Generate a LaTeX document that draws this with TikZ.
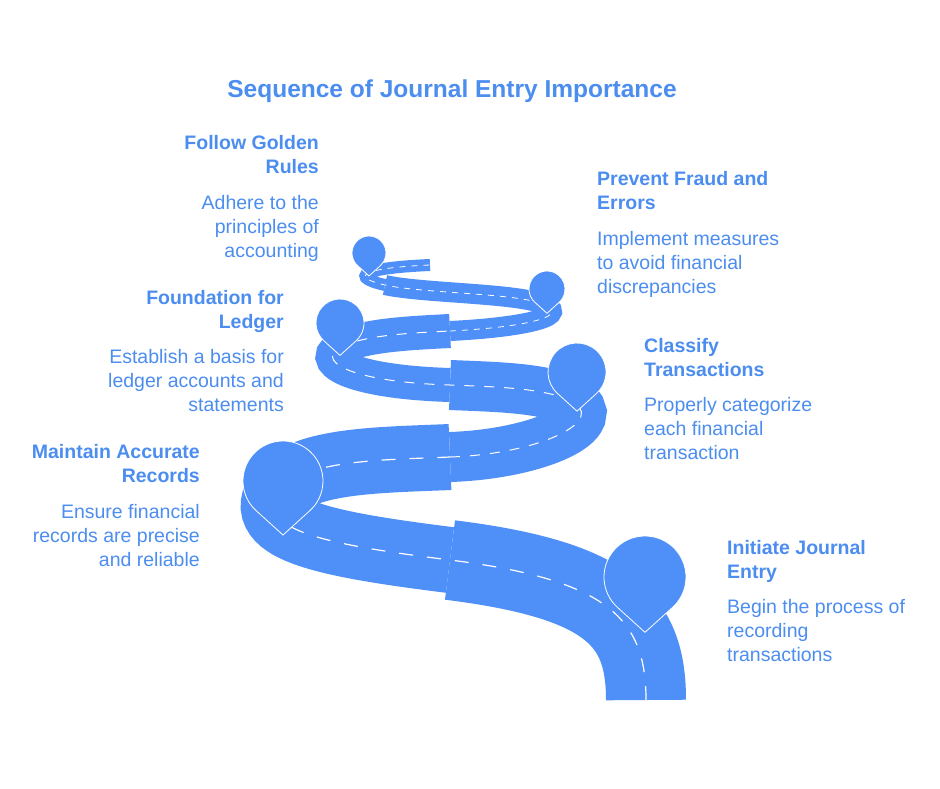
\documentclass[tikz,border=0pt]{standalone}
\usepackage{fontspec}
\setmainfont{Liberation Sans}
\definecolor{roadblue}{HTML}{4F8FF8}
\definecolor{textblue}{HTML}{4C8DF0}
\tikzset{
  road/.style={draw=roadblue, line cap=butt},
  lane/.style={draw=white, line width=1.2pt, dash pattern=on 14pt off 14pt},
  pinshape/.style={fill=roadblue, draw=white, line width=0.8pt},
  head/.style={font=\fontsize{19.5}{24}\selectfont\bfseries, text=textblue, inner sep=0pt},
  body/.style={font=\fontsize{19.5}{24}\selectfont, text=textblue, inner sep=0pt}
}
% pin: centre x, y, radius
\newcommand\mappin[3]{%
  \path[pinshape] (#1,#2+1.35*#3) -- ($(#1,#2)+(132:#3)$)
    arc[start angle=132, end angle=408, radius=#3] -- cycle;}
\usetikzlibrary{calc}
\begin{document}
\begin{tikzpicture}[x=1pt, y=-1pt]
    \useasboundingbox[fill=white] (0,0) rectangle (940,788);
    % road
    \draw[road, line width=80pt] (646,700) .. controls (646,620) and (610,580) .. (450,560);
    \draw[road, line width=66pt] (450,560) .. controls (330,545) and (250,530) .. (280,490)
        .. controls (305,460) and (380,460) .. (450,457);
    \draw[road, line width=50pt] (450,457) .. controls (540,454) and (610,420) .. (570,400)
        .. controls (540,388) and (500,387) .. (450,385);
    \draw[road, line width=34pt] (450,385) .. controls (350,382) and (310,360) .. (345,345)
        .. controls (370,335) and (410,333) .. (450,331);
    \draw[road, line width=20pt] (450,331) .. controls (530,327) and (575,315) .. (540,303)
        .. controls (510,293) and (420,293) .. (385,285);
    \draw[road, line width=12pt] (385,285) .. controls (350,277) and (360,268) .. (430,265);
    % centre line
    \draw[lane] (646,700) .. controls (646,620) and (610,580) .. (450,560)
        .. controls (330,545) and (250,530) .. (280,490)
        .. controls (305,460) and (380,460) .. (450,457);
    \draw[lane, dash pattern=on 10pt off 10pt, line width=1pt] (450,457) .. controls (540,454) and (610,420) .. (570,400)
        .. controls (540,388) and (500,387) .. (450,385)
        .. controls (350,382) and (310,360) .. (345,345)
        .. controls (370,335) and (410,333) .. (450,331);
    \draw[lane, dash pattern=on 6pt off 6pt, line width=0.8pt] (450,331) .. controls (530,327) and (575,315) .. (540,303)
        .. controls (510,293) and (420,293) .. (385,285)
        .. controls (350,277) and (360,268) .. (430,265);
    % pins
    \mappin{645}{577}{41}
    \mappin{283}{481}{40}
    \mappin{577}{372}{29}
    \mappin{340}{323}{24}
    \mappin{547}{289}{18}
    \mappin{369}{253}{17}
    % title
    \node[head, font=\fontsize{24.5}{28}\selectfont\bfseries] (title) at (452,91) {Sequence of Journal Entry Importance};
    % labels
    \node[head, align=right, anchor=north east] (h1) at (319,135) {Follow Golden\\Rules};
    \node[body, align=right, anchor=north east] (b1) at (319,195) {Adhere to the\\principles of\\accounting};
    \node[head, align=left, anchor=north west] (h2) at (597,171) {Prevent Fraud and\\Errors};
    \node[body, align=left, anchor=north west] (b2) at (597,231) {Implement measures\\to avoid financial\\discrepancies};
    \node[head, align=right, anchor=north east] (h3) at (284,290) {Foundation for\\Ledger};
    \node[body, align=right, anchor=north east] (b3) at (284,349) {Establish a basis for\\ledger accounts and\\statements};
    \node[head, align=left, anchor=north west] (h4) at (644,338) {Classify\\Transactions};
    \node[body, align=left, anchor=north west] (b4) at (644,397) {Properly categorize\\each financial\\transaction};
    \node[head, align=right, anchor=north east] (h5) at (200,444) {Maintain Accurate\\Records};
    \node[body, align=right, anchor=north east] (b5) at (200,504) {Ensure financial\\records are precise\\and reliable};
    \node[head, align=left, anchor=north west] (h6) at (727,540) {Initiate Journal\\Entry};
    \node[body, align=left, anchor=north west] (b6) at (727,599) {Begin the process of\\recording\\transactions};
\end{tikzpicture}
\end{document}
